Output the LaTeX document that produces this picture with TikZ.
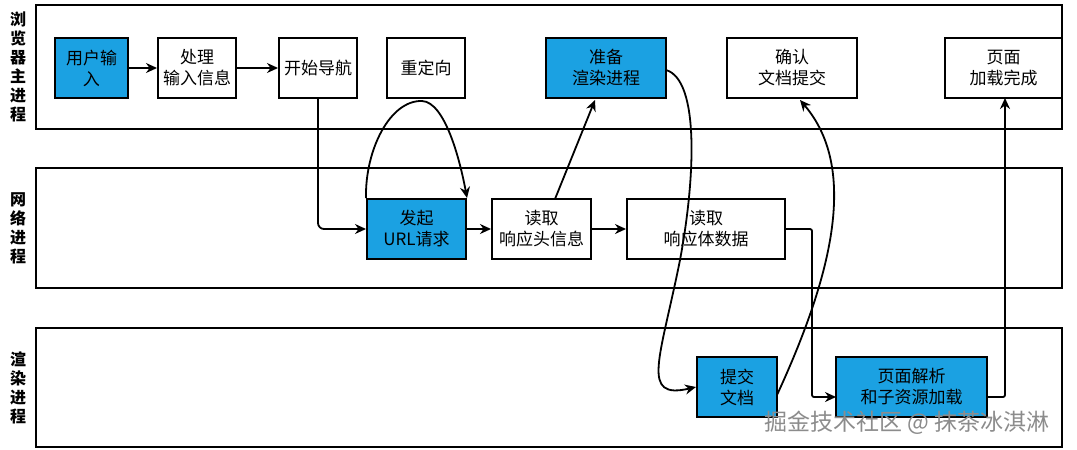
\documentclass[tikz,border=0pt]{standalone}
\usepackage{fontspec}
\newfontfamily\cjk{Noto Sans CJK SC}
\usetikzlibrary{arrows.meta}
\definecolor{bl}{HTML}{1BA1E2}
\begin{document}
\begin{tikzpicture}[x=1pt,y=-1pt,font=\cjk\fontsize{17}{21}\selectfont,
 lane/.style={draw,line width=2pt},
 box/.style={draw,line width=2pt,align=center,inner sep=0pt},
 hb/.style={box,fill=bl},
 ar/.style={line width=1.8pt,-{Stealth[length=11pt,width=10pt]}},
 lab/.style={align=center,font=\cjk\bfseries\fontsize{16}{19}\selectfont}]
\useasboundingbox (0,0) rectangle (1077,450);
\draw[lane] (36,5) rectangle (1062,129);
\draw[lane] (36,168) rectangle (1062,288);
\draw[lane] (36,328) rectangle (1062,447);
\node[lab] (l1) at (18,67) {浏\\览\\器\\主\\进\\程};
\node[lab] (l2) at (18,228) {网\\络\\进\\程};
\node[lab] (l3) at (18,388) {渲\\染\\进\\程};
\newcommand{\bx}[6]{\node[#1,minimum width=#4-#3,minimum height=60] (#2) at ({(#3+#4)/2},#5) {#6};}
\bx{hb}{a}{55}{128}{68}{用户输\\入}
\bx{box}{b}{158}{236}{68}{处理\\输入信息}
\bx{box}{c}{279}{357}{68}{开始导航}
\bx{box}{d}{387}{465}{68}{重定向}
\bx{hb}{e}{546}{666}{68}{准备\\渲染进程}
\bx{box}{f}{727}{857}{68}{确认\\文档提交}
\bx{box}{g}{945}{1062}{68}{页面\\加载完成}
\bx{hb}{h}{367}{466}{229}{发起\\URL请求}
\bx{box}{i}{492}{591}{229}{读取\\响应头信息}
\bx{box}{j}{627}{785}{229}{读取\\响应体数据}
\bx{hb}{k}{697}{777}{387}{提交\\文档}
\bx{hb}{m}{836}{987}{387}{页面解析\\和子资源加载}
\draw[ar] (a) -- (b);
\draw[ar] (b) -- (c);
\draw[ar,rounded corners=6pt] (c.south) -- (c.south|-h.west) -- (h.west);
\draw[ar] (h.north west) .. controls (365,150) and (390,100) .. (422,101) .. controls (445,102) and (460,160) .. (h.north east);
\draw[ar] (555,199) -- (595,100);
\draw[ar] (h) -- (i);
\draw[ar] (i) -- (j);
\draw[ar] (666,70) .. controls (700,80) and (695,180) .. (680,260) .. controls (660,360) and (640,400) .. (k.west);
\draw[ar] (777,395) .. controls (830,280) and (860,170) .. (800,100);
\draw[ar,rounded corners=2pt] (j.east) -- (812,229) -- (812,397) -- (836,397);
\draw[ar,rounded corners=2pt] (987,397) -- (1005,397) -- (1005,98);
\node[text=black!45,font=\cjk\fontsize{23}{25}\selectfont] (w) at (907,423) {掘金技术社区 @ 抹茶冰淇淋};
\end{tikzpicture}
\end{document}
